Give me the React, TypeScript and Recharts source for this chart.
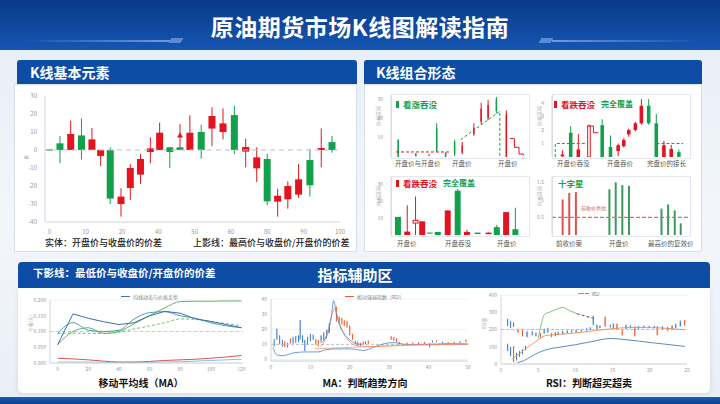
import React from "react";
import { ComposedChart, Bar, Line, XAxis, YAxis, ReferenceLine, CartesianGrid, Cell } from "recharts";

const RED = "#e3141f";
const GREEN = "#13a04b";
const BLUE = "#3d7dcc";
const ORANGE = "#ee5a28";
const NAVY = "#0d4da6";
const FONT = '"Noto Sans CJK SC", "Noto Sans", sans-serif';

// ---- K线基本元素 ----
const kX = [0, 3.6, 7.3, 11, 14.6, 17.6, 20.9, 24.6, 27.8, 31.3, 34.7, 37.9, 41.4, 44.9, 48.3, 52.2, 55.9, 59.7, 63.6, 67.5, 71.3, 74.9, 78.5, 82, 85.7, 89.6, 93.5, 97.2];
const kO = [0.3, 3.7, 0, 8.1, 0, -3.3, 0, -30, -21.1, -13.7, -1.1, 0, 1.5, 1.5, 0, 10, 11.9, 10, 19.4, -0.9, -10.2, -5, -28.7, -27.4, -24.8, -5.6, 0, 4.4];
const kC = [-0.3, 0, 8.9, 0, 5.9, 0, -27, -25.9, -10, -5, 0.9, 9.6, -1.1, 0, 9.6, 0, 18.9, 14.8, 0, 1.7, -4.1, -28.5, -25.4, -20, -16.3, -19.6, 1.1, 0];
const kH = [0.3, 7.8, 16.3, 17.6, 12.2, 0, 1.5, -21.3, -7.8, -2.2, 7, 15.2, 1.5, 14.4, 19.3, 14, 23.7, 23.1, 24.6, 6.3, 1.5, -2.2, -21.5, -17.4, -7.8, 0.4, 12, 7.8];
const kL = [-0.3, -7.4, 0, -5.2, 0, -8.9, -30, -37, -27.8, -18.9, -7.4, 0, -10, 0, 0, -4.8, 2.2, 5.9, -2.2, -9.6, -17.8, -30.7, -37, -32.6, -26.7, -25.9, -9.6, -1.5];
const kMark = [13];
const kTicks = [0, 12.5, 25, 37.5, 50, 62.5, 75, 87.5, 100];
const kTickLabels = ["0", "10", "20", "40", "50", "60", "80", "90", "100"];
const kYTicks = [-40, -30, -20, -10, 0, 10, 20, 30];

// ---- 看涨吞没 ----
const tlX = [2.2, 7.5, 11.5, 13.8, 16.5, 19.2, 21.5, 25, 27.2, 29.3, 31.8, 34.8];
const tlO = [9, 1.9, 0.8, 14.5, 2.3, 7.9, 2.3, 11.7, 18.3, 20.2, 30, 0];
const tlC = [0, 0.4, 1.3, 3.2, 0, 1.3, 6, 14.9, 25, 26.8, 23.6, 22];
const tlH = [9, 1.9, 1.3, 17.4, 2.3, 9, 7.9, 17.4, 28, 29.5, 31, 24];
const tlL = [0, 0.4, 0.8, 3.2, 0, 0.5, 1.5, 11, 17, 19, 22.5, 0];
const tlHollow = [3];
const tlSupX = [1.5, 18];
const tlSupV = [2.6, 2.6];
const tlTrendX = [21, 32.8, 32.8];
const tlTrendV = [8.9, 23.6, 0];
const tlTailX = [35.8, 37.2, 38.6, 40];
const tlTailV = [9.5, 5, 1.5, 0.8];

// ---- 看跌吞没 (上) ----
const trX = [3.2, 5.7, 8, 11.2, 15.2, 17.7, 20, 21.7, 23.2, 25.2, 27, 29.2, 31.5, 33.8, 36, 38.3];
const trO = [0.05, 1.8, 0, 0, 2.36, 0.74, 0.44, 0.8, 1.67, 2, 2.5, 3.8, 2.5, 0, 0, 0.36];
const trC = [0.18, 0, 0.56, 2.3, 0, 0, 0.87, 1.26, 2, 2.5, 3.8, 2.5, 0, 0.87, 0.6, 0];
const trH = [0.5, 2.3, 1.7, 2.4, 2.8, 1.6, 1, 1.4, 2.1, 2.6, 4.3, 4.3, 3.2, 1.2, 0.9, 0.55];
const trL = [0, 0, 0, 0, 0, 0, 0.05, 0.7, 1.5, 1.9, 2.4, 2.4, 0, 0, 0, 0];
const trHollow = [3];
const trBoxX = [1, 1, 10];
const trBoxV = [0, 1, 1];
const trBox2X = [31.5, 39.5];
const trBox2V = [1, 1];
const trTailX = [11.2, 12.5, 14];
const trTailV = [2.3, 1.8, 1.8];

// ---- 看跌吞没 (下) ----
const blX = [2.2, 5, 7.5, 9.5, 11.8, 14.2, 17.2, 20.2, 23, 26.2, 29.5, 32, 34.8, 37.6];
const blO = [10.6, 0, 7, 0, 1.4, 1.8, 0, 26, 0, 1.4, 0.5, 4.6, 0, 3.4];
const blC = [0, 2, 8.6, 8, 1, 0, 14.4, 0, 1.8, 0.6, 1.4, 0, 13.4, 0];
const blH = [10.6, 17.4, 22.6, 8, 1.4, 1.8, 14.4, 27, 3, 1.4, 1.4, 6, 13.4, 16];
const blL = [0, 0, 0, 0, 1, 0, 0, 0, 0, 0.6, 0.5, 0, 0, 0];
const blHollow = [2];

// ---- 十字星 ----
const brX = [3.2, 5.2, 7.2, 17.3, 19.2, 21.2, 23.2, 33, 35, 37, 38.8];
const brV = [1.01, 1.2, 1.22, 1.3, 1.5, 1.42, 1.4, 0.75, 0.87, 0.7, 0.33];
const brSide = ["bear", "bear", "bear", "bull", "bull", "bull", "bull", "bull", "bull", "bull", "bull"];

// ---- 移动平均线 ----
const maX = [0, 10, 20, 30, 40, 50, 60, 70, 80, 90, 100, 110, 120];
const maBlue = [0.058, 0.156, 0.142, 0.131, 0.122, 0.128, 0.15, 0.164, 0.158, 0.14, 0.132, 0.122, 0.112];
const maTeal = [0.094, 0.128, 0.104, 0.1, 0.104, 0.14, 0.16, 0.163, 0.15, 0.142, 0.128, 0.118, 0.112];
const maGreen = [0.058, 0.1, 0.112, 0.094, 0.1, 0.125, 0.15, 0.175, 0.195, 0.196, 0.196, 0.197, 0.197];
const maGreenDash = [0.094, 0.095, 0.094, 0.094, 0.098, 0.108, 0.118, 0.128, 0.14, 0.138, 0.132, 0.125, 0.118];
const maRed = [0.015, 0.013, 0.01, 0.006, 0.003, 0.003, 0.005, 0.008, 0.01, 0.012, 0.015, 0.019, 0.024];
const maLight = [0.003, 0.003, 0.003, 0.002, 0.002, 0.002, 0.002, 0.003, 0.004, 0.006, 0.008, 0.01, 0.012];

// ---- MA 判断趋势 ----
const bX = [0.8, 1.5, 2.2, 2.9, 3.5, 4.2, 4.9, 5.6, 6.3, 7, 7.4, 8, 8.6, 9.3, 10, 10.7, 11.4, 12, 12.7, 13.4, 14.1, 14.8, 16.6, 17.3, 18, 18.6, 19.3, 20, 20.7, 21.4, 22, 22.7, 23.4, 24, 24.7, 30.5, 31.2, 31.9, 32.6, 34.5, 36, 37.5, 39, 40.3, 41, 42, 43.5, 45, 46.5, 48, 49.5];
const bO = [9.2, 13.5, 11.4, 9, 11.4, 10.5, 13.5, 11, 12, 12, 13.5, 11.5, 6, 10, 12.5, 13.5, 12.8, 12.4, 12.4, 13.5, 14.5, 17.8, 34, 28, 27, 25.5, 25, 22, 16.5, 12, 11.4, 10.8, 11.4, 11.8, 12, 15, 14.6, 13.5, 10.3, 10.2, 10.8, 10.3, 11.4, 8.2, 11.6, 12.4, 11, 11.2, 11.6, 11.2, 12.8];
const bC = [12, 20, 15.7, 12, 8.6, 8.2, 10.8, 14.5, 15, 15.7, 26, 15.7, 12.5, 14.5, 16.5, 15.7, 10, 9.2, 15.7, 17.2, 19, 23.2, 27.5, 25, 24, 23, 22, 16.5, 13.5, 10.3, 9.2, 9.2, 9.8, 10.3, 10.5, 13.5, 12.9, 11.8, 11.4, 10.9, 10.1, 11.2, 10.6, 10.3, 12.2, 11.8, 11.6, 10.8, 11, 11.8, 11.6];
const bH = [13.5, 20.5, 16, 13, 12, 11, 14, 15, 15.5, 16, 26, 16, 13, 15, 17, 16.5, 13.5, 13, 16, 18, 19.5, 24, 35, 28.5, 27.5, 26, 25.5, 22.5, 17, 12.5, 12, 11, 12, 12, 12.5, 15.5, 15, 14, 11.5, 11.2, 11.1, 11.5, 11.7, 10.6, 12.5, 12.6, 11.9, 11.4, 11.8, 12.1, 13.2];
const bL = [8.5, 13, 10, 8.5, 8, 8, 10.5, 10.5, 11, 11.5, 13, 11, 5.5, 9.5, 12, 13, 9.5, 8.5, 12, 13, 14, 17.5, 25, 24, 23, 22, 21, 16, 13, 10, 9, 9, 9.5, 10, 10, 13, 12.5, 11.5, 10, 9.9, 9.8, 10, 10.3, 8, 11.3, 11.5, 10.8, 10.5, 10.8, 11, 11.3];
const bSlowX = [0.5, 1.5, 3, 6, 9, 12, 14, 17, 20, 23.5, 26, 28.5, 31, 34.5, 38, 42, 46, 50];
const bSlowV = [8, 3, 2.5, 4.5, 5, 5, 6.5, 7, 7, 6, 8, 10.3, 11.2, 9.9, 10, 10.2, 10.5, 10.2];
const bFastX = [12.5, 13.5, 14.5, 15.3, 15.9, 16.6, 17.5, 18.5, 19.5, 20.5, 21.5, 23];
const bFastV = [11, 13, 18, 28, 39, 30, 22, 17, 14, 12, 10.5, 10];
const bRsiX = [12.5, 13.5, 14.5, 15.5, 16.2, 17, 18, 19, 20, 22, 25, 30, 35, 40, 45, 50];
const bRsiV = [8, 12, 20, 30, 34, 27, 20, 15, 11.5, 9, 8.5, 9, 9.8, 10, 10, 10.2];
const bFlatX = [11, 15, 20, 25, 30, 35, 40, 45, 50];
const bFlatV = [7, 7.5, 8, 8.5, 9, 9.3, 9.6, 9.8, 10];

// ---- RSI 判断超买超卖 ----
const cX = [0.9, 1.3, 1.7, 0.9, 1.3, 1.7, 2.1, 2.5, 2.9, 3.3, 2.3, 2.9, 3.5, 4.2, 4.7, 5.3, 5.8, 6.3, 6.8, 7.3, 7.7, 8.3, 8.9, 9.5, 10.1, 10.8, 11.5, 12, 12.4, 12.9, 13.3, 14, 14.7, 15.1, 15.6, 16.3, 16.8, 17.4, 18, 18.5, 19.2, 19.9, 20.6, 21, 21.7, 22.4, 23, 23.5, 24.1, 24.7];
const cO = [227, 212, 220, 83, 50, 100, 25, 45, 60, 85, 200, 200, 160, 170, 165, 175, 180, 185, 175, 165, 170, 175, 180, 185, 185, 190, 195, 200, 230, 205, 210, 270, 215, 210, 230, 195, 205, 210, 215, 205, 210, 212, 210, 215, 200, 195, 205, 210, 220, 250];
const cC = [256, 245, 238, 111, 95, 15, 60, 70, 80, 100, 185, 165, 185, 185, 178, 155, 200, 205, 160, 180, 185, 190, 190, 192, 195, 200, 205, 210, 275, 225, 220, 220, 225, 230, 200, 170, 225, 222, 165, 218, 220, 218, 218, 170, 215, 210, 220, 230, 250, 225];
const cH = [262, 250, 242, 118, 100, 105, 65, 75, 85, 105, 205, 203, 190, 190, 182, 180, 205, 210, 180, 185, 188, 192, 195, 196, 198, 203, 208, 213, 280, 228, 224, 275, 228, 235, 235, 198, 228, 225, 218, 220, 223, 220, 221, 218, 218, 214, 224, 233, 252, 255];
const cL = [220, 208, 215, 75, 45, 10, 20, 40, 55, 80, 180, 160, 155, 165, 160, 150, 175, 180, 155, 160, 168, 172, 178, 182, 182, 188, 192, 197, 225, 200, 207, 215, 212, 207, 197, 165, 202, 207, 160, 202, 207, 210, 207, 165, 197, 192, 202, 207, 217, 222];
const cGreenX = [5, 5.4, 5.8, 6.5, 7.5, 8.3, 9.2, 10.2];
const cGreenV = [150, 230, 285, 300, 318, 328, 310, 292];
const cGreenDashX = [10.2, 11, 11.8, 12.4];
const cGreenDashV = [292, 282, 272, 265];
const cBlueX = [2.2, 3, 4, 5, 6, 8, 10, 12, 14.8, 17, 20, 24.7];
const cBlueV = [8, 18, 42, 65, 82, 98, 112, 128, 148, 140, 125, 102];
const cOrangeX = [1.5, 2.5, 3.5, 4.5, 5.3, 6, 8, 10, 12, 15, 18, 21, 24.7];
const cOrangeV = [30, 60, 95, 125, 150, 165, 172, 180, 190, 205, 212, 210, 198];

const mk = (xs: number[], os: number[], cs: number[], hs: number[], ls: number[], hollow: number[] = [], mark: number[] = []) =>
  xs.map((x, i) => ({ x, o: os[i], c: cs[i], h: hs[i], l: ls[i], rng: [ls[i], hs[i]], hollow: hollow.includes(i), mark: mark.includes(i) }));
const pts = (xs: number[], vs: number[]) => xs.map((x, i) => ({ x, v: vs[i] }));

function candleShape(upCol: string, downCol: string) {
  return (p: any) => {
    const { x, y, width, height, payload } = p;
    if (x == null || !payload) return <g />;
    const top = Math.min(y, y + height);
    const hh = Math.abs(height);
    const { o, c, h, l } = payload;
    const span = h - l;
    const py = (v: number) => (span === 0 ? top : top + ((h - v) / span) * hh);
    const col = c >= o ? upCol : downCol;
    const cx = x + width / 2;
    const t = py(Math.max(o, c));
    const b = py(Math.min(o, c));
    return (
      <g>
        <line x1={cx} x2={cx} y1={top} y2={top + hh} stroke={payload.mark ? RED : col} strokeWidth={1} />
        <rect
          x={payload.hollow ? x + 0.5 : x}
          y={t}
          width={payload.hollow ? width - 1 : width}
          height={Math.max(b - t, 1)}
          fill={payload.hollow ? "#fff" : col}
          stroke={payload.hollow ? col : "none"}
          strokeWidth={1}
        />
        {payload.mark && <polygon points={`${cx - 3},${py(7)} ${cx + 3},${py(7)} ${cx},${py(7) - 5}`} fill={RED} />}
      </g>
    );
  };
}

const tick = { fontSize: 5, fill: "#999" };
const axisLine = { stroke: "#d0d4da" };

function Lbl({ x, y, children, size = 6.5, color = "#555", weight = 400 }: any) {
  return (
    <div style={{ position: "absolute", left: x, top: y, fontSize: size, color, fontWeight: weight, whiteSpace: "nowrap", lineHeight: 1 }}>
      {children}
    </div>
  );
}

function MiniTitle({ x, y, bar, text, extra }: any) {
  return (
    <div style={{ position: "absolute", left: x, top: y, display: "flex", alignItems: "center", fontSize: 8.5, fontWeight: 700, lineHeight: 1, whiteSpace: "nowrap" }}>
      {bar && <span style={{ display: "inline-block", width: 3, height: 7, background: bar, marginRight: 4 }} />}
      <span style={{ color: bar || GREEN }}>{text}</span>
      {extra && <span style={{ color: GREEN, marginLeft: 6, fontSize: 8 }}>{extra}</span>}
    </div>
  );
}

function MiniChart({ left, top, height, data, yDomain, yTicks, yLabel, lines, hollowCol }: any) {
  return (
    <>
      <div style={{ position: "absolute", left: left + 19, top: top + 2, width: 137, height: height - 4, border: "1px solid #e3e7ee" }} />
      <div style={{ position: "absolute", left, top }}>
        <ComposedChart width={158} height={height} data={data} margin={{ top: 3, right: 3, left: 0, bottom: 2 }}>
          <XAxis dataKey="x" type="number" domain={[0, 41]} hide allowDataOverflow />
          <YAxis
            type="number"
            domain={yDomain}
            ticks={yTicks}
            width={19}
            tick={tick}
            tickLine={false}
            axisLine={axisLine}
            allowDataOverflow
            label={{ value: yLabel, angle: -90, position: "insideLeft", offset: 6, fontSize: 5, fill: "#aaa" }}
          />
          <Bar dataKey="rng" barSize={7} isAnimationActive={false} shape={candleShape(RED, hollowCol || GREEN)} />
          {lines.map((ln: any, i: number) => (
            <Line
              key={i}
              data={ln.data}
              dataKey="v"
              type={ln.step ? "stepAfter" : "linear"}
              stroke={ln.color}
              strokeWidth={1}
              strokeDasharray={ln.dash}
              dot={false}
              isAnimationActive={false}
            />
          ))}
        </ComposedChart>
      </div>
    </>
  );
}

export default function App() {
  const kData = mk(kX, kO, kC, kH, kL, [], kMark);
  const tlData = mk(tlX, tlO, tlC, tlH, tlL, tlHollow);
  const trData = mk(trX, trO, trC, trH, trL, trHollow);
  const blData = mk(blX, blO, blC, blH, blL, blHollow);
  const brData = brX.map((x, i) => ({ x, v: brV[i], side: brSide[i] }));
  const maData = maX.map((x, i) => ({ x, blue: maBlue[i], teal: maTeal[i], green: maGreen[i], gd: maGreenDash[i], red: maRed[i], light: maLight[i] }));
  const bData = mk(bX, bO, bC, bH, bL);
  const cData = mk(cX, cO, cC, cH, cL);

  return (
    <div
      style={{
        position: "absolute",
        left: 0,
        top: 0,
        width: 720,
        height: 404,
        overflow: "hidden",
        fontFamily: FONT,
        background: "linear-gradient(180deg,#e6edf7 0%,#f3f6fb 55%,#e9eff7 100%)",
      }}
    >
      {/* title band */}
      <div style={{ position: "absolute", left: 0, top: 0, width: 720, height: 50, background: "linear-gradient(180deg,#0a3a88 0%,#1556b2 100%)" }} />
      <div style={{ position: "absolute", left: 20, top: 40, width: 150, height: 2, background: "linear-gradient(90deg,rgba(120,160,220,0),#6e9be0)" }} />
      <div style={{ position: "absolute", left: 170, top: 38, width: 12, height: 5, background: "#5b8ad6", transform: "skewX(-30deg)" }} />
      <div style={{ position: "absolute", left: 540, top: 38, width: 12, height: 5, background: "#5b8ad6", transform: "skewX(-30deg)" }} />
      <div style={{ position: "absolute", left: 552, top: 40, width: 150, height: 2, background: "linear-gradient(90deg,#6e9be0,rgba(120,160,220,0))" }} />
      <div style={{ position: "absolute", left: 0, top: 11, width: 720, textAlign: "center", color: "#fff", fontSize: 23, fontWeight: 700, lineHeight: "30px", letterSpacing: 0.5 }}>
        原油期货市场K线图解读指南
      </div>

      {/* left panel */}
      <div style={{ position: "absolute", left: 14, top: 84, width: 343, height: 168, background: "#fff", border: "1px solid #d5dfee", boxSizing: "border-box" }} />
      <div style={{ position: "absolute", left: 17, top: 60, width: 340, height: 24, background: NAVY, borderRadius: "3px 3px 0 0", color: "#fff", fontSize: 14, fontWeight: 700, lineHeight: "24px", paddingLeft: 13, boxSizing: "border-box" }}>
        K线基本元素
      </div>
      <div style={{ position: "absolute", left: 18, top: 88 }}>
        <ComposedChart width={335} height={150} data={kData} margin={{ top: 8, right: 13, left: 3, bottom: 0 }}>
          <XAxis dataKey="x" type="number" domain={[-1.5, 100]} ticks={kTicks} tickFormatter={(v: number) => kTickLabels[kTicks.indexOf(v)]} tick={{ fontSize: 6, fill: "#999" }} tickLine={false} axisLine={axisLine} height={16} allowDataOverflow />
          <YAxis type="number" domain={[-40, 30]} ticks={kYTicks} tick={{ fontSize: 6, fill: "#999" }} tickLine={false} axisLine={axisLine} width={24} allowDataOverflow label={{ value: "K", angle: -90, position: "insideLeft", offset: 6, fontSize: 6, fill: "#999" }} />
          <ReferenceLine y={0} stroke="#b8c0c8" strokeDasharray="5 4" />
          <Bar dataKey="rng" barSize={7} isAnimationActive={false} shape={candleShape(RED, GREEN)} />
        </ComposedChart>
      </div>
      <Lbl x={45} y={238} size={9} color="#222" weight={500}>实体：开盘价与收盘价的价差</Lbl>
      <Lbl x={193} y={238} size={9} color="#222" weight={500}>上影线：最高价与收盘价/开盘价的价差</Lbl>

      {/* right panel */}
      <div style={{ position: "absolute", left: 364, top: 84, width: 338, height: 168, background: "#fff", border: "1px solid #d5dfee", boxSizing: "border-box" }} />
      <div style={{ position: "absolute", left: 364, top: 60, width: 338, height: 24, background: NAVY, borderRadius: "3px 3px 0 0", color: "#fff", fontSize: 14, fontWeight: 700, lineHeight: "24px", paddingLeft: 12, boxSizing: "border-box" }}>
        K线组合形态
      </div>

      <MiniChart
        left={372}
        top={92}
        height={67}
        data={tlData}
        yDomain={[0, 32]}
        yTicks={[0, 10, 15, 20, 30]}
        yLabel="价格区间"
        lines={[
          { data: pts(tlSupX, tlSupV), color: RED, dash: "3 2" },
          { data: pts(tlTrendX, tlTrendV), color: GREEN, dash: "3 2" },
          { data: pts(tlTailX, tlTailV), color: RED, step: true },
        ]}
      />
      <MiniTitle x={396} y={100} bar={GREEN} text="看涨吞没" />
      <Lbl x={395} y={160}>开盘价与开盘价</Lbl>
      <Lbl x={452} y={160}>开盘价</Lbl>
      <Lbl x={498} y={160}>开盘价</Lbl>

      <MiniChart
        left={533}
        top={92}
        height={67}
        data={trData}
        yDomain={[0, 4.6]}
        yTicks={[0, 1, 2, 3, 4]}
        yLabel="价格区间"
        lines={[
          { data: pts(trBoxX, trBoxV), color: GREEN, dash: "3 2" },
          { data: pts(trBox2X, trBox2V), color: GREEN, dash: "3 2" },
          { data: pts(trTailX, trTailV), color: RED, step: true },
        ]}
      />
      <MiniTitle x={554} y={100} bar={RED} text="看跌吞没" extra="完全覆盖" />
      <Lbl x={557} y={160}>开盘价吞没</Lbl>
      <Lbl x={607} y={160}>开盘吞价</Lbl>
      <Lbl x={647} y={160}>完盘价的接长</Lbl>

      <MiniChart
        left={372}
        top={174}
        height={63}
        data={blData}
        yDomain={[0, 34]}
        yTicks={[0, 10, 20, 30]}
        yLabel="价格区间"
        lines={[]}
      />
      <MiniTitle x={396} y={179} bar={RED} text="看跌吞没" extra="完全覆盖" />
      <Lbl x={397} y={240}>开盘价</Lbl>
      <Lbl x={445} y={240}>开盘吞没</Lbl>
      <Lbl x={497} y={240}>开盘价</Lbl>

      {/* 十字星 */}
      <div style={{ position: "absolute", left: 552, top: 176, width: 137, height: 59, border: "1px solid #e3e7ee" }} />
      <div style={{ position: "absolute", left: 533, top: 174 }}>
        <ComposedChart width={158} height={63} data={brData} margin={{ top: 3, right: 3, left: 0, bottom: 2 }}>
          <XAxis dataKey="x" type="number" domain={[0, 41]} hide allowDataOverflow />
          <YAxis type="number" domain={[0, 1.65]} ticks={[0, 0.5, 1, 1.5]} width={19} tick={tick} tickLine={false} axisLine={axisLine} allowDataOverflow label={{ value: "价格区间", angle: -90, position: "insideLeft", offset: 6, fontSize: 5, fill: "#aaa" }} />
          <ReferenceLine y={0.5} stroke="#e36a6a" strokeDasharray="4 2" strokeWidth={1.2} />
          <Bar dataKey="v" barSize={2} isAnimationActive={false}>
            {brData.map((d, i) => (
              <Cell key={i} fill={d.side === "bear" ? "#d9534f" : "#3a9a5c"} />
            ))}
          </Bar>
        </ComposedChart>
      </div>
      <MiniTitle x={558} y={179} text="十字星" />
      <Lbl x={581} y={205} size={5} color="#c55">前收价复位</Lbl>
      <Lbl x={556} y={240}>前收价案</Lbl>
      <Lbl x={609} y={240}>开盘价</Lbl>
      <Lbl x={648} y={240}>最高价的复效价</Lbl>

      {/* bottom panel */}
      <div style={{ position: "absolute", left: 18, top: 288, width: 692, height: 105, background: "#fff", borderRadius: "0 0 5px 5px", boxShadow: "0 1px 4px rgba(40,70,120,0.15)" }} />
      <div style={{ position: "absolute", left: 18, top: 262, width: 692, height: 26, background: NAVY, borderRadius: "4px 4px 0 0" }} />
      <Lbl x={33} y={268} size={10.5} color="#fff" weight={700}>下影线：最低价与收盘价/开盘价的价差</Lbl>
      <div style={{ position: "absolute", left: 300, top: 266, width: 110, textAlign: "center", color: "#fff", fontSize: 15, fontWeight: 700, lineHeight: "18px" }}>指标辅助区</div>
      <div style={{ position: "absolute", left: 0, top: 397, width: 720, height: 7, background: "linear-gradient(180deg,#1a5cb6,#0b3f90)" }} />

      {/* 移动平均线 */}
      <div style={{ position: "absolute", left: 26, top: 292 }}>
        <ComposedChart width={222} height={82} data={maData} margin={{ top: 8, right: 5, left: 2, bottom: 0 }}>
          <CartesianGrid vertical={false} stroke="#f0f2f5" />
          <XAxis dataKey="x" type="number" domain={[-5, 121]} ticks={[0, 20, 40, 60, 80, 100, 120]} tick={tick} tickLine={false} tickSize={2} axisLine={axisLine} height={11} allowDataOverflow />
          <YAxis type="number" domain={[0, 0.2]} ticks={[0, 0.05, 0.1, 0.15, 0.2]} tickFormatter={(v: number) => v.toFixed(3)} width={22} tick={tick} tickLine={false} tickSize={2} axisLine={axisLine} label={{ value: "价格(元)", angle: -90, position: "insideLeft", offset: 2, fontSize: 4.5, fill: "#aaa" }} />
          <ReferenceLine y={0.1} stroke="#c8ccd2" strokeDasharray="3 3" />
          <Line dataKey="light" stroke="#7fc4e0" strokeWidth={1} dot={false} isAnimationActive={false} type="monotone" />
          <Line dataKey="red" stroke="#d9534f" strokeWidth={1} dot={false} isAnimationActive={false} type="monotone" />
          <Line dataKey="gd" stroke="#6fbf73" strokeWidth={1} strokeDasharray="3 2" dot={false} isAnimationActive={false} type="monotone" />
          <Line dataKey="green" stroke="#5cb85c" strokeWidth={1} dot={false} isAnimationActive={false} type="monotone" />
          <Line dataKey="teal" stroke="#45a3b0" strokeWidth={1} dot={false} isAnimationActive={false} type="monotone" />
          <Line dataKey="blue" stroke="#3e6fb0" strokeWidth={1} dot={false} isAnimationActive={false} type="linear" />
        </ComposedChart>
      </div>
      <div style={{ position: "absolute", left: 121, top: 294, display: "flex", alignItems: "center", fontSize: 5, color: "#888", lineHeight: 1 }}>
        <span style={{ display: "inline-block", width: 9, height: 1, background: "#3e6fb0", marginRight: 3 }} />均线动态与价格走势
      </div>
      <Lbl x={0} y={378} size={10} color="#111" weight={600}>
        <div style={{ width: 282, textAlign: "center" }}>移动平均线（MA）</div>
      </Lbl>

      {/* MA 判断趋势方向 */}
      <div style={{ position: "absolute", left: 248, top: 291 }}>
        <ComposedChart width={225} height={81} data={bData} margin={{ top: 8, right: 5, left: 2, bottom: 0 }}>
          <CartesianGrid vertical={false} stroke="#f0f2f5" />
          <XAxis dataKey="x" type="number" domain={[0, 50]} ticks={[0, 10, 20, 30, 40, 50]} tick={tick} tickLine={false} tickSize={2} axisLine={axisLine} height={11} allowDataOverflow />
          <YAxis type="number" domain={[-1, 40]} ticks={[0, 10, 20, 30, 40]} width={21} tick={tick} tickLine={false} tickSize={2} axisLine={axisLine} allowDataOverflow />
          <ReferenceLine y={10} stroke="#b9bec5" strokeDasharray="3 2" />
          <Line data={pts(bFlatX, bFlatV)} dataKey="v" stroke="#f0a070" strokeWidth={0.8} dot={false} isAnimationActive={false} type="monotone" />
          <Line data={pts(bSlowX, bSlowV)} dataKey="v" stroke="#4a86c8" strokeWidth={0.8} dot={false} isAnimationActive={false} type="monotone" />
          <Line data={pts(bRsiX, bRsiV)} dataKey="v" stroke="#f28c6a" strokeWidth={0.8} dot={false} isAnimationActive={false} type="monotone" />
          <Line data={pts(bFastX, bFastV)} dataKey="v" stroke="#4a86c8" strokeWidth={0.8} dot={false} isAnimationActive={false} type="monotone" />
          <Bar dataKey="rng" barSize={3} isAnimationActive={false} shape={candleShape(BLUE, ORANGE)} />
        </ComposedChart>
      </div>
      <div style={{ position: "absolute", left: 345, top: 294, display: "flex", alignItems: "center", fontSize: 5, color: "#888", lineHeight: 1 }}>
        <span style={{ display: "inline-block", width: 9, height: 1, background: ORANGE, marginRight: 3 }} />相对强弱指数（RSI）
      </div>
      <Lbl x={282} y={378} size={10} color="#111" weight={600}>
        <div style={{ width: 166, textAlign: "center" }}>MA：判断趋势方向</div>
      </Lbl>

      {/* RSI 判断超买超卖 */}
      <div style={{ position: "absolute", left: 478, top: 289 }}>
        <ComposedChart width={214} height={86} data={cData} margin={{ top: 6, right: 5, left: 2, bottom: 0 }}>
          <CartesianGrid vertical={false} stroke="#f0f2f5" />
          <XAxis dataKey="x" type="number" domain={[0, 25]} ticks={[0, 5, 10, 15, 20, 25]} tick={tick} tickLine={false} tickSize={2} axisLine={axisLine} height={11} allowDataOverflow />
          <YAxis type="number" domain={[0, 400]} ticks={[0, 100, 200, 300, 400]} width={21} tick={tick} tickLine={false} tickSize={2} axisLine={axisLine} allowDataOverflow label={{ value: "RSI值", angle: -90, position: "insideLeft", offset: 4, fontSize: 4.5, fill: "#aaa" }} />
          <ReferenceLine y={200} stroke="#b9bec5" strokeDasharray="3 2" />
          <Line data={pts(cBlueX, cBlueV)} dataKey="v" stroke="#4a7fb8" strokeWidth={0.9} dot={false} isAnimationActive={false} type="monotone" />
          <Line data={pts(cOrangeX, cOrangeV)} dataKey="v" stroke="#f08a4b" strokeWidth={0.9} dot={false} isAnimationActive={false} type="monotone" />
          <Line data={pts(cGreenX, cGreenV)} dataKey="v" stroke="#6fb87a" strokeWidth={0.9} dot={false} isAnimationActive={false} type="monotone" />
          <Line data={pts(cGreenDashX, cGreenDashV)} dataKey="v" stroke="#5a7a90" strokeWidth={1.2} strokeDasharray="3 2" dot={false} isAnimationActive={false} type="linear" />
          <Bar dataKey="rng" barSize={3} isAnimationActive={false} shape={candleShape(BLUE, ORANGE)} />
        </ComposedChart>
      </div>
      <div style={{ position: "absolute", left: 578, top: 291, display: "flex", alignItems: "center", fontSize: 5, color: "#888", lineHeight: 1 }}>
        <span style={{ display: "inline-block", width: 6, height: 1, background: "#6fb87a" }} />
        <span style={{ display: "inline-block", width: 4, height: 1, background: ORANGE, marginLeft: 1, marginRight: 3 }} />RSI
      </div>
      <Lbl x={508} y={378} size={10} color="#111" weight={600}>
        <div style={{ width: 162, textAlign: "center" }}>RSI：判断超买超卖</div>
      </Lbl>
    </div>
  );
}
